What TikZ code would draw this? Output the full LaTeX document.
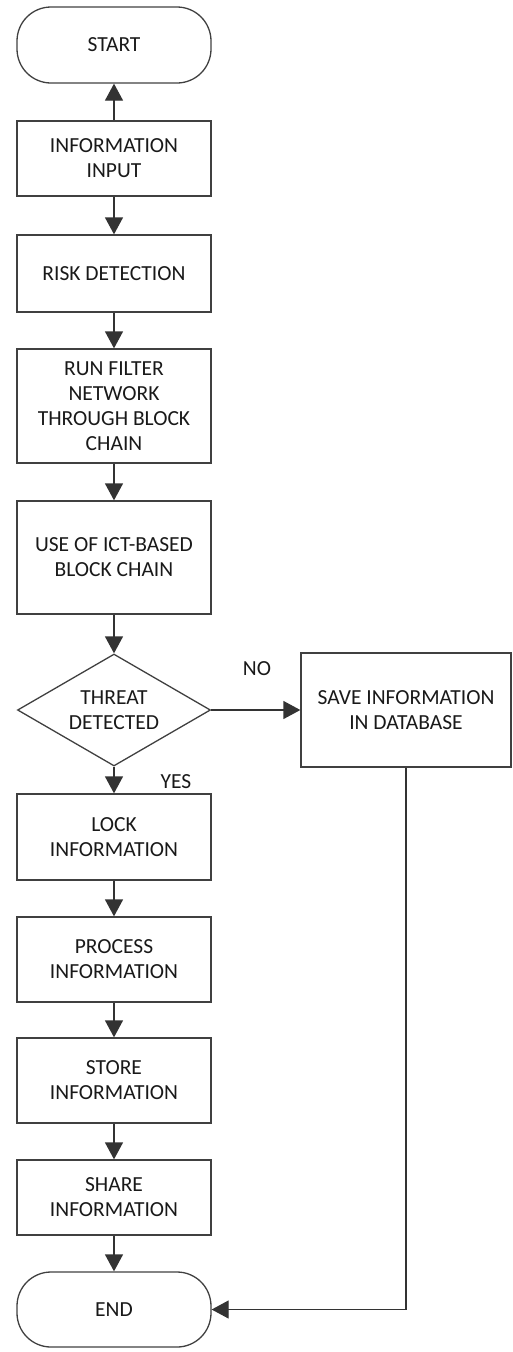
\documentclass[tikz,border=0pt]{standalone}
\usepackage{fontspec}
\setmainfont{Carlito}
\usetikzlibrary{arrows.meta,shapes.geometric}
\begin{document}
\begin{tikzpicture}[x=1pt,y=-1pt,
  box/.style={draw=black!75,line width=1.3pt,minimum width=194pt,align=center,inner sep=2pt,
    font=\fontsize{21.5}{25}\selectfont,text=black!90},
  term/.style={box,rounded corners=34pt},
  decision/.style={draw=black!75,line width=1.3pt,diamond,aspect=1.72,minimum width=193pt,minimum height=112pt,inner sep=0pt,align=center,
    font=\fontsize{21.5}{25}\selectfont,text=black!90},
  lbl/.style={font=\fontsize{21.5}{25}\selectfont,text=black!90},
  conn/.style={draw=black!80,line width=1.3pt,-{Triangle[width=18pt,length=17pt]}},
  plain/.style={draw=black!80,line width=1.3pt}]
\useasboundingbox (0,0) rectangle (512,1352);
\node[term,minimum height=76pt] (start) at (114,45) {START};
\node[box,minimum height=75pt] (info) at (114,158.5) {INFORMATION\\INPUT};
\node[box,minimum height=77pt] (risk) at (114,273.5) {RISK DETECTION};
\node[box,minimum height=114pt] (filter) at (114,406) {RUN FILTER\\NETWORK\\THROUGH BLOCK\\CHAIN};
\node[box,minimum height=113pt] (ict) at (114,557.5) {USE OF ICT-BASED\\BLOCK CHAIN};
\node[decision] (dec) at (114,710) {THREAT\\DETECTED};
\node[box,minimum width=210pt,minimum height=114pt] (save) at (406,710) {SAVE INFORMATION\\IN DATABASE};
\node[box,minimum height=86pt] (lock) at (114,837) {LOCK\\INFORMATION};
\node[box,minimum height=85pt] (process) at (114,959.5) {PROCESS\\INFORMATION};
\node[box,minimum height=85pt] (store) at (114,1080.5) {STORE\\INFORMATION};
\node[box,minimum height=75pt] (share) at (114,1197.5) {SHARE\\INFORMATION};
\node[term,minimum height=75pt] (end) at (114,1309.5) {END};
\node[lbl] (no) at (257,669) {NO};
\node[lbl] (yes) at (176,782) {YES};
\draw[conn] (info) -- (start);
\draw[conn] (info) -- (risk);
\draw[conn] (risk) -- (filter);
\draw[conn] (filter) -- (ict);
\draw[conn] (ict) -- (dec);
\draw[conn] (dec) -- (lock);
\draw[conn] (dec) -- (save);
\draw[conn] (lock) -- (process);
\draw[conn] (process) -- (store);
\draw[conn] (store) -- (share);
\draw[conn] (share) -- (end);
\draw[conn] (save.south) |- (end.east);
\end{tikzpicture}
\end{document}
